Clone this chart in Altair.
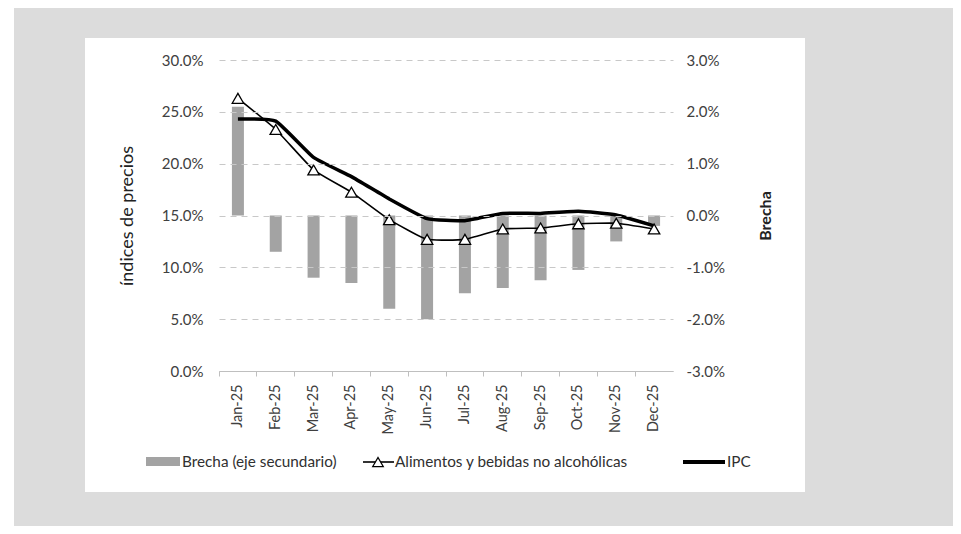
import altair as alt
import pandas as pd

meses = ["Jan-25", "Feb-25", "Mar-25", "Apr-25", "May-25", "Jun-25",
         "Jul-25", "Aug-25", "Sep-25", "Oct-25", "Nov-25", "Dec-25"]
alimentos = [26.3, 23.3, 19.4, 17.25, 14.6, 12.7, 12.7, 13.7, 13.8, 14.2, 14.25, 13.7]
ipc = [24.3, 24.1, 20.6, 18.75, 16.6, 14.7, 14.5, 15.2, 15.2, 15.4, 15.05, 14.0]
brecha = [2.1, -0.7, -1.2, -1.3, -1.8, -2.0, -1.5, -1.4, -1.25, -1.05, -0.5, -0.2]
left_ticks = [0.0, 0.05, 0.10, 0.15, 0.20, 0.25, 0.30]
right_ticks = [-0.03, -0.02, -0.01, 0.0, 0.01, 0.02, 0.03]
leyenda = ["Brecha (eje secundario)", "Alimentos y bebidas no alcohólicas", "IPC"]

df = pd.DataFrame({
    "mes": meses,
    "alimentos": [v / 100 for v in alimentos],
    "ipc": [v / 100 for v in ipc],
    "brecha": [v / 100 for v in brecha],
})

FONT = "Lato"
TXT = "#404040"
W, H = 454, 311

X = alt.X(
    "mes:N", sort=meses,
    scale=alt.Scale(domain=meses, paddingInner=0, paddingOuter=0),
    axis=alt.Axis(title=None, labelAngle=-90, bandPosition=0,
                  tickSize=5, tickColor="#bfbfbf", domainColor="#bfbfbf",
                  labelPadding=8, labelFont=FONT, labelFontSize=14.5, labelColor=TXT,
                  zindex=1),
)

lab_expr = "(datum.value < 0 ? '-' : '') + format(abs(datum.value), '.1%')"

Y_left = alt.Y(
    "v:Q",
    scale=alt.Scale(domain=[0, 0.30], nice=False, zero=False),
    axis=alt.Axis(orient="left", values=left_ticks, labelExpr=lab_expr,
                  grid=True, gridDash=[6, 5], gridColor="#c8c8c8", gridWidth=1,
                  domain=False, ticks=False, labelPadding=16,
                  labelFont=FONT, labelFontSize=15, labelColor=TXT,
                  title="índices de precios", titleFont=FONT, titleFontSize=18,
                  titleFontWeight="normal", titleColor="#222222", titlePadding=25,
                  zindex=1),
)

base = alt.Chart(df)

bars = base.mark_bar(color="#a3a3a3", size=12).encode(
    x=X,
    y=alt.Y("brecha:Q",
            scale=alt.Scale(domain=[-0.03, 0.03], nice=False, zero=False),
            axis=alt.Axis(orient="right", values=right_ticks, labelExpr=lab_expr,
                          grid=False, domain=False, ticks=False, labelPadding=13,
                          labelFont=FONT, labelFontSize=15, labelColor=TXT,
                          title="Brecha", titleFont=FONT, titleFontSize=16,
                          titleFontWeight="bold", titleColor="#222222",
                          titleAngle=270, titlePadding=49, zindex=1)),
    y2=alt.datum(0),
)

ipc_line = base.transform_calculate(v="datum.ipc").mark_line(
    color="black", strokeWidth=3.5, interpolate="cardinal", tension=0.6).encode(x=X, y=Y_left)
food_line = base.transform_calculate(v="datum.alimentos").mark_line(
    color="black", strokeWidth=1.6, interpolate="cardinal", tension=0.6).encode(x=X, y=Y_left)
food_pts = base.transform_calculate(v="datum.alimentos").mark_point(
    shape="triangle-up", size=130, filled=True, fill="white", stroke="black",
    strokeWidth=1.3, opacity=1).encode(x=X, y=Y_left)

lines = alt.layer(ipc_line, food_line, food_pts)

one = alt.Data(values=[{}])
panel = alt.Chart(one).mark_rect(color="white").encode(
    x=alt.value(-134), x2=alt.value(586), y=alt.value(-22), y2=alt.value(432))
strip = alt.Chart(one).mark_rect(color="white").encode(
    x=alt.value(-211), x2=alt.value(-205), y=alt.value(-52), y2=alt.value(466))

# legend
LEGTXT = "#303030"
LFS = 15.3
leg_rect = alt.Chart(one).mark_rect(color="#a3a3a3").encode(
    x=alt.value(-73), x2=alt.value(-39), y=alt.value(397), y2=alt.value(406))
leg_t1 = alt.Chart(alt.Data(values=[{"t": leyenda[0]}])).mark_text(
    align="left", baseline="middle", font=FONT, fontSize=LFS, color=LEGTXT).encode(
    x=alt.value(-37), y=alt.value(402), text="t:N")
leg_l2 = alt.Chart(one).mark_rule(color="black", strokeWidth=1.6).encode(
    x=alt.value(144), x2=alt.value(175), y=alt.value(402))
leg_p2 = alt.Chart(one).mark_point(shape="triangle-up", size=110, filled=True,
                                   fill="white", stroke="black", strokeWidth=1.3,
                                   opacity=1).encode(x=alt.value(159), y=alt.value(402))
leg_t2 = alt.Chart(alt.Data(values=[{"t": leyenda[1]}])).mark_text(
    align="left", baseline="middle", font=FONT, fontSize=LFS, color=LEGTXT).encode(
    x=alt.value(176), y=alt.value(402), text="t:N")
leg_l3 = alt.Chart(one).mark_rule(color="black", strokeWidth=4).encode(
    x=alt.value(464), x2=alt.value(506), y=alt.value(402))
leg_t3 = alt.Chart(alt.Data(values=[{"t": leyenda[2]}])).mark_text(
    align="left", baseline="middle", font=FONT, fontSize=LFS, color=LEGTXT).encode(
    x=alt.value(508), y=alt.value(402), text="t:N")

chart = alt.layer(
    panel, strip, bars, lines,
    leg_rect, leg_t1, leg_l2, leg_p2, leg_t2, leg_l3, leg_t3,
).resolve_scale(y="independent").properties(
    width=W, height=H,
    autosize=alt.AutoSizeParams(type="none"),
    padding={"left": 211, "top": 52, "right": 280, "bottom": 155},
    background="#dcdcdc",
).configure_view(stroke=None)

chart.save("out.html", embed_options={"renderer": "svg", "actions": False})
